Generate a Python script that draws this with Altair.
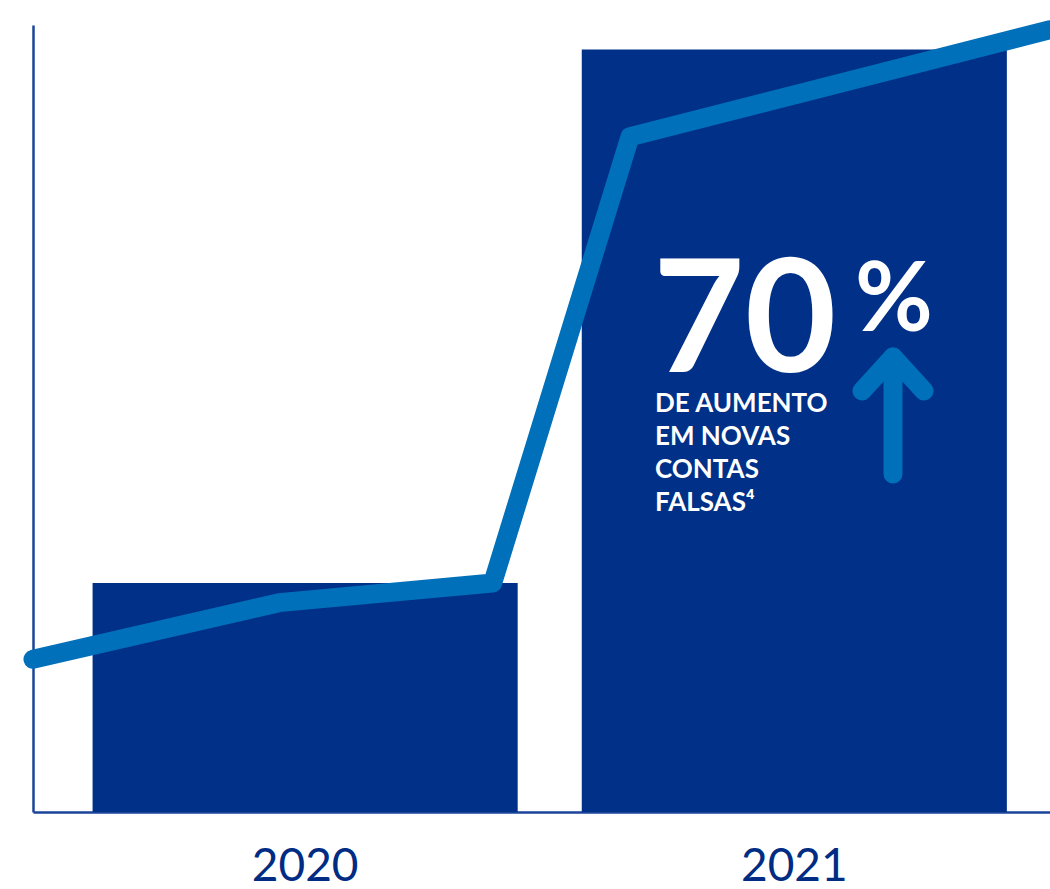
import altair as alt
import pandas as pd

# ---- data ----
years = ["2020", "2021"]
bar_values = [29.1, 96.9]           # bar heights on a 0-100 scale
line_t = [0, 24.2, 45.2, 58.7, 100]  # positions along the time axis (0-100)
line_values = [19.4, 26.6, 29.1, 85.8, 99.4]

big_number = "70"
big_suffix = "%"
caption_lines = ["DE AUMENTO", "EM NOVAS", "CONTAS", "FALSAS\u2074"]

NAVY = "#003087"
BLUE = "#0070BA"
AXIS = "#1a449a"
W, H = 1017, 787

bars_df = pd.DataFrame({"year": years, "value": bar_values})
line_df = pd.DataFrame({"t": line_t, "value": line_values})

y_scale = alt.Scale(domain=[0, 100], nice=False, zero=True)
y_axis = alt.Axis(domain=True, domainColor=AXIS, domainWidth=2.5, ticks=False,
                  labels=False, grid=False, title=None)

bars = alt.Chart(bars_df).mark_bar(color=NAVY).encode(
    x=alt.X("year:N", title=None,
            scale=alt.Scale(paddingInner=0.131, paddingOuter=0.105, align=0.58),
            axis=alt.Axis(domain=True, domainColor=AXIS, domainWidth=2.5, ticks=False,
                          labelAngle=0, labelFontSize=46, labelFont="Lato",
                          labelColor="#002c83", labelPadding=32, grid=False)),
    y=alt.Y("value:Q", scale=y_scale, axis=y_axis),
)

line = alt.Chart(line_df).mark_line(color=BLUE, strokeWidth=19, strokeCap="round",
                                    strokeJoin="round", clip=False).encode(
    x=alt.X("t:Q", scale=alt.Scale(domain=[0, 100], nice=False), axis=None),
    y=alt.Y("value:Q", scale=y_scale, axis=y_axis),
)

num = alt.Chart(pd.DataFrame({"txt": [big_number]})).mark_text(
    align="left", baseline="alphabetic", font="Lato", fontWeight="bold",
    fontSize=158, color="white", x=620, y=347).encode(text="txt:N")

pct = alt.Chart(pd.DataFrame({"txt": [big_suffix]})).mark_text(
    align="left", baseline="alphabetic", font="Lato", fontWeight="bold",
    fontSize=95, color="white", x=822, y=306).encode(text="txt:N")

cap = alt.Chart(pd.DataFrame({"txt": ["\n".join(caption_lines)]})).mark_text(
    align="left", baseline="alphabetic", font="Lato", fontWeight="bold",
    fontSize=26, lineHeight=33, lineBreak="\n", color="white", x=622, y=387
).encode(text="txt:N")

shaft = alt.Chart(pd.DataFrame({"a": [0]})).mark_rule(
    color=BLUE, strokeWidth=19, strokeCap="round").encode(
    x=alt.value(860), y=alt.value(334), y2=alt.value(449))
arm_l = alt.Chart(pd.DataFrame({"a": [0]})).mark_rule(
    color=BLUE, strokeWidth=19, strokeCap="round").encode(
    x=alt.value(829), x2=alt.value(860), y=alt.value(366), y2=alt.value(332))
arm_r = alt.Chart(pd.DataFrame({"a": [0]})).mark_rule(
    color=BLUE, strokeWidth=19, strokeCap="round").encode(
    x=alt.value(891), x2=alt.value(860), y=alt.value(366), y2=alt.value(332))

chart = alt.layer(bars, line, num, pct, cap, shaft, arm_l, arm_r).resolve_scale(
    x="independent"
).properties(
    width=W, height=H,
    autosize=alt.AutoSizeParams(type="none"),
    padding={"left": 33, "top": 25, "right": 0, "bottom": 77},
    background="white",
).configure_view(stroke=None)

chart.save("out.html", embed_options={"renderer": "svg", "actions": False})
